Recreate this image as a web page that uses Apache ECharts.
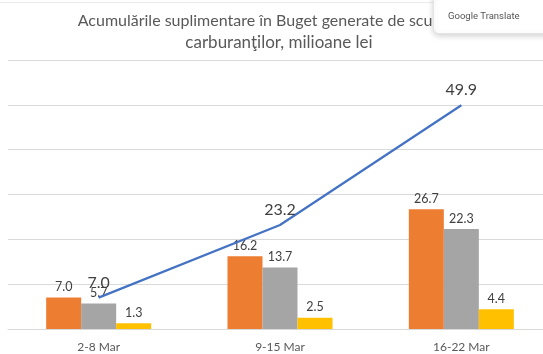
<!DOCTYPE html>
<html><head><meta charset="utf-8">
<script src="https://cdn.jsdelivr.net/npm/echarts@6/dist/echarts.min.js"></script>
<style>html,body{margin:0;padding:0;background:#fff}#c{width:543px;height:354px}</style>
</head><body><div id="c"></div>
<script>
const categories = ['2-8 Mar', '9-15 Mar', '16-22 Mar'];
const seriesOrange = [7.0, 16.2, 26.7];
const seriesGrey = [5.7, 13.7, 22.3];
const seriesYellow = [1.3, 2.5, 4.4];
const seriesTotal = [7.0, 23.2, 49.9];
const titleLine1 = 'Acumulările suplimentare în Buget generate de scumpirea';
const titleLine2 = 'carburanţilor, milioane lei';
const popupText = 'Google Translate';

const FONT = 'Lato, "Open Sans", sans-serif';
const chart = echarts.init(document.getElementById('c'), null, {renderer: 'canvas'});
const barLabel = {show: true, position: 'top', distance: 4, color: '#404040', fontSize: 12.5, fontFamily: FONT, formatter: p => p.value.toFixed(1)};
chart.setOption({
  animation: false,
  textStyle: {fontFamily: FONT},
  title: {
    text: '{a|' + titleLine1 + '}\n{b|' + titleLine2 + '}', left: 274, textAlign: 'center', top: 5,
    textStyle: {
      fontWeight: 'normal', color: '#595959', fontFamily: FONT,
      rich: {
        a: {fontSize: 16, lineHeight: 22, color: '#595959', fontFamily: FONT},
        b: {fontSize: 17, lineHeight: 22, color: '#595959', fontFamily: FONT}
      }
    }
  },
  grid: {left: 8, width: 544, top: 60, bottom: 25, containLabel: false, outerBoundsMode: 'none'},
  xAxis: {
    type: 'category', data: categories,
    axisLine: {lineStyle: {color: '#d9d9d9'}}, axisTick: {show: false},
    axisLabel: {color: '#595959', fontSize: 12, margin: 12, fontFamily: FONT}
  },
  yAxis: {
    type: 'value', min: 0, max: 60, interval: 10,
    axisLabel: {show: false}, axisLine: {show: false}, axisTick: {show: false},
    splitLine: {lineStyle: {color: '#d9d9d9'}}
  },
  series: [
    {type: 'bar', data: seriesOrange, barWidth: 35, barGap: '0%', itemStyle: {color: '#ED7D31'}, label: barLabel},
    {type: 'bar', data: seriesGrey, barWidth: 35, barGap: '0%', itemStyle: {color: '#A5A5A5'}, label: barLabel},
    {type: 'bar', data: seriesYellow, barWidth: 35, barGap: '0%', itemStyle: {color: '#FFC000'}, label: barLabel},
    {type: 'line', data: seriesTotal, showSymbol: true, symbol: 'circle', symbolSize: 0.5,
     itemStyle: {color: '#4472C4'}, lineStyle: {color: '#4472C4', width: 2.2},
     label: {show: true, position: 'top', distance: 7, color: '#404040', fontSize: 16, fontFamily: FONT, formatter: p => p.value.toFixed(1)},
     labelLayout: {hideOverlap: false},
     z: 5}
  ],
  graphic: [
    {type: 'line', shape: {x1: 0, y1: 2.5, x2: 433, y2: 2.5}, style: {stroke: '#ededed', lineWidth: 1}, z: 50},
    {type: 'rect', left: 433, top: -8, shape: {width: 130, height: 41, r: 5},
     style: {fill: '#ffffff', stroke: '#e4e4e4', lineWidth: 1, shadowBlur: 6, shadowColor: 'rgba(0,0,0,0.18)', shadowOffsetY: 2}, z: 100},
    {type: 'text', left: 448, top: 12, style: {text: popupText, fill: '#555555', fontSize: 9.5, fontFamily: 'Roboto, sans-serif'}, z: 101}
  ]
});
</script></body></html>
